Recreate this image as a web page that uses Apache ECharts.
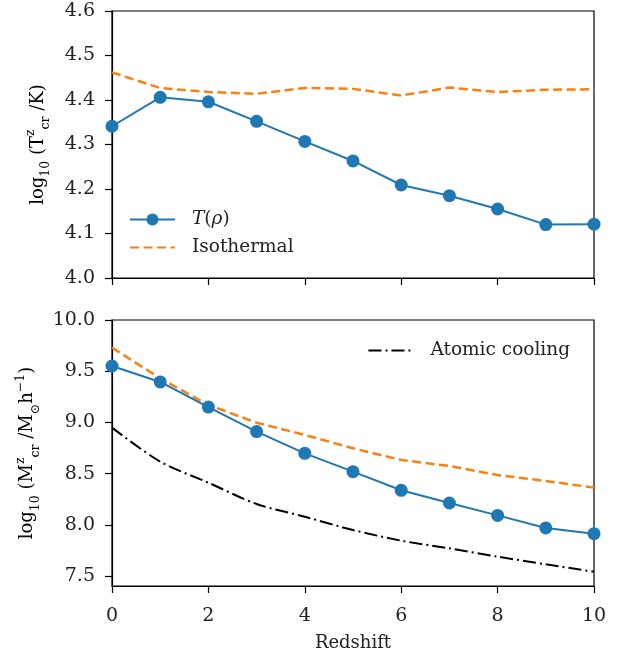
<!DOCTYPE html>
<html><head><meta charset="utf-8">
<script src="https://cdn.jsdelivr.net/npm/echarts@6/dist/echarts.min.js"></script>
<style>html,body{margin:0;padding:0;background:#fff}#c{width:621px;height:657px}</style>
</head><body><div id="c"></div>
<script>
const redshift = [0, 1, 2, 3, 4, 5, 6, 7, 8, 9, 10];
const tempRho = [4.341, 4.406, 4.396, 4.352, 4.307, 4.263, 4.209, 4.185, 4.155, 4.120, 4.121];
const tempIso = [4.462, 4.427, 4.418, 4.414, 4.427, 4.425, 4.410, 4.428, 4.418, 4.423, 4.424];
const massRho = [9.551, 9.395, 9.150, 8.910, 8.698, 8.519, 8.337, 8.213, 8.092, 7.969, 7.913];
const massIso = [9.730, 9.430, 9.170, 8.997, 8.878, 8.747, 8.633, 8.574, 8.486, 8.428, 8.363];
const massAtomic = [8.949, 8.617, 8.411, 8.203, 8.079, 7.949, 7.845, 7.770, 7.689, 7.614, 7.542];
const xTicks = [0, 2, 4, 6, 8, 10];
const topYTicks = [4.0, 4.1, 4.2, 4.3, 4.4, 4.5, 4.6];
const bottomYTicks = [7.5, 8.0, 8.5, 9.0, 9.5, 10.0];

const FONT = 'DejaVu Serif';
const BLUE = '#1f77b4', ORANGE = '#ff7f0e';
const pairs = arr => redshift.map((z, i) => [z, arr[i]]);
const richName = {
  n: {fontFamily: FONT, fontSize: 18, lineHeight: 28, color: '#000'},
  s: {fontFamily: FONT, fontSize: 12.5, lineHeight: 12, verticalAlign: 'bottom', color: '#000'},
  p: {fontFamily: FONT, fontSize: 12.5, lineHeight: 12, verticalAlign: 'top', color: '#000'}
};
const axisCommon = {
  axisLine: {show: true, onZero: false, lineStyle: {color: '#000', width: 1.2}},
  axisTick: {show: true, inside: false, length: 7, lineStyle: {color: '#000', width: 1.2}},
  splitLine: {show: false},
  axisLabel: {fontFamily: FONT, fontSize: 19, color: '#222'}
};
const hideSym = {itemStyle: {opacity: 0, borderWidth: 0}};

const chart = echarts.init(document.getElementById('c'), null, {renderer: 'canvas'});
chart.setOption({
  animation: false,
  backgroundColor: '#fff',
  grid: [
    {left: 112, right: 27, top: 11, height: 267, show: true, borderColor: '#000', borderWidth: 1.2, containLabel: false},
    {left: 112, right: 27, top: 320, height: 266, show: true, borderColor: '#000', borderWidth: 1.2, containLabel: false}
  ],
  xAxis: [
    Object.assign({}, axisCommon, {gridIndex: 0, type: 'value', min: 0, max: 10, interval: 2,
      axisLabel: {show: false}}),
    Object.assign({}, axisCommon, {gridIndex: 1, type: 'value', min: 0, max: 10, interval: 2,
      axisTick: Object.assign({}, axisCommon.axisTick, {customValues: xTicks}),
      axisLabel: Object.assign({}, axisCommon.axisLabel, {margin: 21, customValues: xTicks}),
      name: 'Redshift', nameLocation: 'middle', nameGap: 48,
      nameTextStyle: {fontFamily: FONT, fontSize: 18, color: '#222'}})
  ],
  yAxis: [
    Object.assign({}, axisCommon, {gridIndex: 0, type: 'value', min: 4.0, max: 4.6, interval: 0.1,
      axisTick: Object.assign({}, axisCommon.axisTick, {customValues: topYTicks}),
      axisLabel: Object.assign({}, axisCommon.axisLabel, {margin: 17, customValues: topYTicks, formatter: v => v.toFixed(1)}),
      name: '{n|log}{s|10}{n| (T}{p|z}{s|cr}{n| /K)}', nameLocation: 'middle', nameGap: 60, nameRotate: 90,
      nameTextStyle: {fontFamily: FONT, fontSize: 18, color: '#000', rich: richName}}),
    Object.assign({}, axisCommon, {gridIndex: 1, type: 'value', min: 7.4023, max: 10.0,
      axisTick: Object.assign({}, axisCommon.axisTick, {customValues: bottomYTicks}),
      axisLabel: Object.assign({}, axisCommon.axisLabel, {margin: 17, customValues: bottomYTicks, formatter: v => v.toFixed(1)}),
      name: '{n|log}{s|10}{n| (M}{p|z}{s|cr}{n| /M}{s|⊙}{n|h}{p|−1}{n|)}', nameLocation: 'middle', nameGap: 70, nameRotate: 90,
      nameTextStyle: {fontFamily: FONT, fontSize: 18, color: '#000', rich: richName}})
  ],
  legend: [
    {orient: 'vertical', left: 124, top: 205, itemWidth: 45, itemHeight: 15, itemGap: 9,
      data: ['T(ρ)', Object.assign({name: 'Isothermal'}, hideSym)],
      formatter: n => n === 'T(ρ)' ? '{i|T}{r|(}{i|ρ}{r|)}' : n,
      textStyle: {fontFamily: FONT, fontSize: 18.5, color: '#222', padding: [0, 0, 0, 12],
        rich: {i: {fontFamily: FONT, fontSize: 18.5, fontStyle: 'italic', color: '#222'},
               r: {fontFamily: FONT, fontSize: 18.5, color: '#222'}}}},
    {orient: 'vertical', right: 46, top: 336, itemWidth: 45, itemHeight: 15,
      data: [Object.assign({name: 'Atomic cooling'}, hideSym)],
      textStyle: {fontFamily: FONT, fontSize: 18.5, color: '#222', padding: [0, 0, 0, 12]}}
  ],
  series: [
    {name: 'T(ρ)', type: 'line', xAxisIndex: 0, yAxisIndex: 0, data: pairs(tempRho),
      symbol: 'circle', symbolSize: 13, lineStyle: {color: BLUE, width: 2}, itemStyle: {color: BLUE}, z: 3},
    {name: 'Isothermal', type: 'line', xAxisIndex: 0, yAxisIndex: 0, data: pairs(tempIso),
      symbol: 'none', lineStyle: {color: ORANGE, width: 2.5, type: [9, 4.5]}, itemStyle: {color: ORANGE}, z: 2},
    {name: 'T(ρ)', type: 'line', xAxisIndex: 1, yAxisIndex: 1, data: pairs(massRho),
      symbol: 'circle', symbolSize: 13, lineStyle: {color: BLUE, width: 2}, itemStyle: {color: BLUE}, z: 3},
    {name: 'Isothermal', type: 'line', xAxisIndex: 1, yAxisIndex: 1, data: pairs(massIso),
      symbol: 'none', lineStyle: {color: ORANGE, width: 2.5, type: [9, 4.5]}, itemStyle: {color: ORANGE}, z: 2},
    {name: 'Atomic cooling', type: 'line', xAxisIndex: 1, yAxisIndex: 1, data: pairs(massAtomic),
      symbol: 'none', smooth: 0.3, lineStyle: {color: '#000', width: 2, type: [13, 4, 2, 4]}, itemStyle: {color: '#000'}, z: 2}
  ]
});
</script></body></html>
